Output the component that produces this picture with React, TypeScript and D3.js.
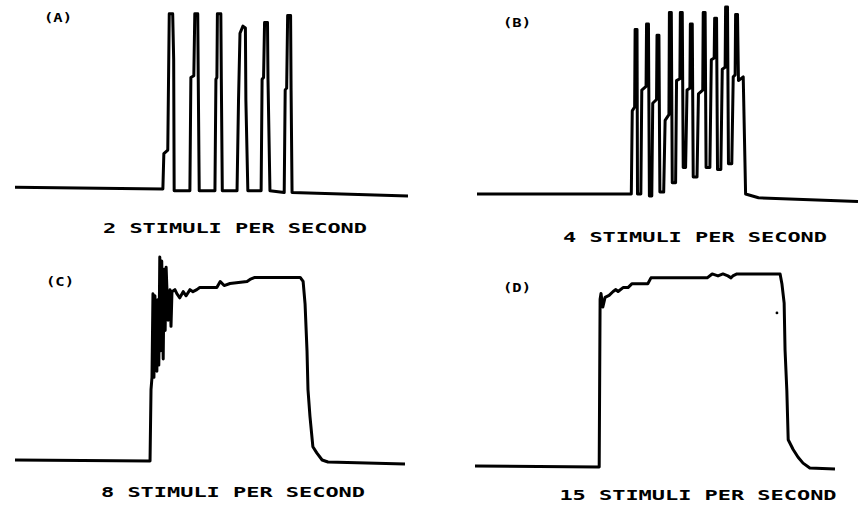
import { useEffect, useRef } from 'react';
import * as d3 from 'd3';

// traces: [time (s), force (% of max)]
const traceA: [number, number][] = [
  [0, 1], [3.01, 0], [3.03, 20], [3.11, 22], [3.14, 99], [3.21, 99], [3.23, 73], [3.24, -1],
  [3.56, -1], [3.58, 63], [3.64, 64], [3.66, 99], [3.72, 99], [3.73, 63], [3.75, -1],
  [4.07, -1], [4.09, 62], [4.11, 63], [4.12, 99], [4.19, 99], [4.2, 62], [4.22, -1],
  [4.52, -1], [4.55, 50], [4.58, 88], [4.64, 92], [4.69, 91], [4.7, 50], [4.74, -1],
  [5.01, -1], [5.03, 62], [5.06, 63], [5.08, 94], [5.14, 94], [5.15, 62], [5.19, -1],
  [5.48, -2], [5.5, 56], [5.53, 57], [5.55, 98], [5.61, 98], [5.62, 56], [5.64, -2],
  [8, -4],
];

const traceB: [number, number][] = [
  [0, 0], [3.24, 0], [3.26, 44], [3.31, 46], [3.32, 87], [3.36, 87], [3.37, 0], [3.44, 0],
  [3.46, 55], [3.55, 57], [3.56, 90], [3.6, 90], [3.62, -1], [3.67, -1],
  [3.69, 48], [3.77, 50], [3.78, 84], [3.82, 84], [3.84, 1], [3.92, 1],
  [3.95, 39], [4.03, 42], [4.04, 96], [4.08, 96], [4.1, 6], [4.17, 6],
  [4.19, 60], [4.26, 61], [4.27, 96], [4.31, 96], [4.33, 14], [4.38, 14],
  [4.41, 55], [4.47, 56], [4.48, 90], [4.52, 90], [4.54, 9], [4.62, 9],
  [4.65, 53], [4.74, 55], [4.75, 96], [4.79, 96], [4.81, 14], [4.89, 14],
  [4.92, 71], [4.98, 72], [4.99, 93], [5.03, 93], [5.05, 13], [5.12, 13],
  [5.15, 66], [5.21, 67], [5.22, 99], [5.26, 99], [5.28, 16], [5.35, 16],
  [5.38, 62], [5.42, 63], [5.43, 95], [5.47, 95], [5.49, 60], [5.59, 62], [5.64, 0],
  [5.91, -2], [8, -4],
];

const traceC: [number, number][] = [
  [0, 0.5], [2.77, 0], [2.79, 35], [2.81, 41],
  [2.83, 82], [2.85, 41], [2.87, 81], [2.91, 44], [2.93, 79], [2.95, 47],
  [2.97, 100], [2.99, 54], [3.01, 98], [3.04, 50], [3.06, 94], [3.08, 64],
  [3.1, 95], [3.14, 69], [3.18, 84], [3.2, 66], [3.22, 83],
  [3.28, 84], [3.32, 82], [3.38, 80], [3.45, 83], [3.51, 81], [3.59, 84], [3.65, 83],
  [3.73, 84], [3.79, 85], [4.14, 85], [4.21, 88], [4.29, 86], [4.41, 87], [4.76, 88],
  [4.82, 89], [4.92, 90], [5.85, 90], [5.91, 88], [5.95, 77], [5.99, 54], [6.01, 35],
  [6.05, 22], [6.11, 7], [6.19, 4], [6.3, 0.5], [6.42, -0.5], [8, -1.5],
];

const traceD: [number, number][] = [
  [0, 0.5], [2.76, 0], [2.78, 86], [2.8, 89], [2.84, 82], [2.89, 87], [2.98, 88],
  [3.07, 90], [3.13, 91], [3.18, 90], [3.29, 92], [3.4, 92], [3.49, 94], [3.6, 94],
  [3.84, 94], [3.91, 97], [4.18, 97], [5.16, 97], [5.27, 99], [5.4, 98], [5.51, 99],
  [5.62, 98], [5.69, 97], [5.73, 98], [5.82, 99], [6.78, 99], [6.82, 94], [6.87, 84],
  [6.89, 60], [6.93, 39], [6.96, 14], [7.07, 9], [7.18, 5], [7.29, 2], [7.44, -0.5],
  [8, -1],
];

const strayD: [number, number][] = [[6.71, 79]];

const panelLabels = ['(A)', '(B)', '(C)', '(D)'];
const captions = [
  '2 STIMULI PER SECOND',
  '4 STIMULI PER SECOND',
  '8 STIMULI PER SECOND',
  '15 STIMULI PER SECOND',
];

const timeDomain: [number, number] = [0, 8];
const forceDomain: [number, number] = [0, 100];

// layout of each panel on the page
const panels = [
  { trace: traceA, x: [15, 408], y: [189, 12], label: [58, 22], caption: [235, 233] },
  { trace: traceB, x: [477, 858], y: [194, 5], label: [517, 27], caption: [695, 242] },
  { trace: traceC, x: [15, 405], y: [461, 257], label: [60, 286], caption: [233, 497] },
  { trace: traceD, x: [475, 835], y: [467, 272], label: [517, 292], caption: [698, 500] },
];

export default function App() {
  const svgRef = useRef<SVGSVGElement>(null);

  useEffect(() => {
    if (!svgRef.current) return;
    const svg = d3.select(svgRef.current);
    svg.selectAll('*').remove();

    panels.forEach((p, i) => {
      const x = d3.scaleLinear().domain(timeDomain).range(p.x);
      const y = d3.scaleLinear().domain(forceDomain).range(p.y);
      const line = d3.line<[number, number]>()
        .x((d) => x(d[0]))
        .y((d) => y(d[1]));

      const g = svg.append('g');

      g.append('path')
        .datum(p.trace)
        .attr('d', line)
        .attr('fill', 'none')
        .attr('stroke', '#000')
        .attr('stroke-width', 3)
        .attr('stroke-linejoin', 'round');

      if (i === 3) {
        g.selectAll('circle')
          .data(strayD)
          .join('circle')
          .attr('cx', (d) => x(d[0]))
          .attr('cy', (d) => y(d[1]))
          .attr('r', 1.4)
          .attr('fill', '#000');
      }

      g.append('text')
        .attr('x', p.label[0])
        .attr('y', p.label[1])
        .attr('text-anchor', 'middle')
        .attr('font-family', 'DejaVu Sans Mono')
        .attr('font-weight', 'bold')
        .attr('font-size', 12)
        .attr('textLength', 28)
        .attr('lengthAdjust', 'spacingAndGlyphs')
        .text(panelLabels[i]);

      const capLen = captions[i].length * 13.2;
      g.append('text')
        .attr('x', p.caption[0] - capLen / 2)
        .attr('y', p.caption[1])
        .attr('font-family', 'DejaVu Sans Mono')
        .attr('font-weight', 'bold')
        .attr('font-size', 14)
        .attr('textLength', capLen)
        .attr('lengthAdjust', 'spacingAndGlyphs')
        .text(captions[i]);
    });
  }, []);

  return (
    <svg
      ref={svgRef}
      width={865}
      height={509}
      style={{ position: 'absolute', left: 0, top: 0, background: '#fff' }}
    />
  );
}
